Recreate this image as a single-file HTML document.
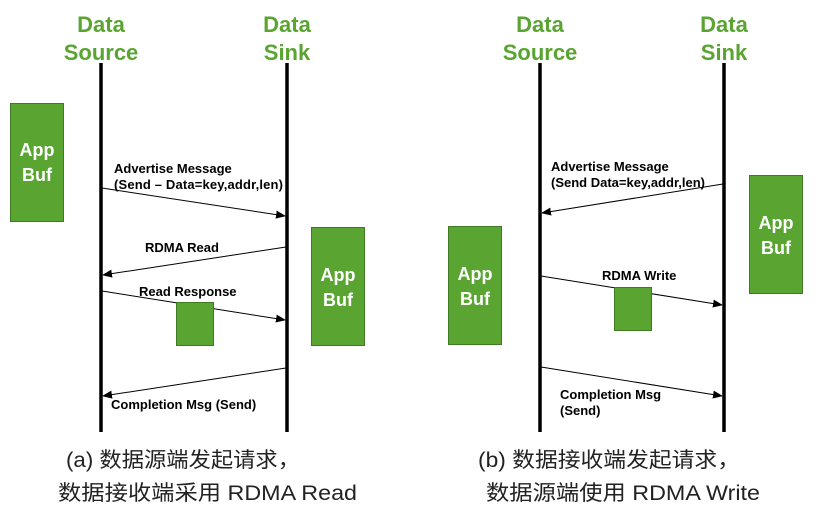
<!DOCTYPE html>
<html><head><meta charset="utf-8"><style>
body{margin:0;background:#fff}
svg text{font-family:"Liberation Sans",sans-serif}
.h{fill:#5aa532;font-weight:bold;font-size:22px;text-anchor:middle}
.l{font-size:13px;font-weight:bold;fill:#000}
.b{fill:#5aa532;stroke:#3d7a22;stroke-width:1}
.bt{fill:#fff;font-weight:bold;font-size:18px;text-anchor:middle}
.c{font-family:"Liberation Sans","Noto Sans CJK SC",sans-serif!important;font-size:21px;fill:#222}
</style></head><body>
<svg width="829" height="513" viewBox="0 0 829 513">
<defs><marker id="a" markerWidth="10" markerHeight="8" refX="9" refY="4" orient="auto" markerUnits="userSpaceOnUse"><path d="M0,0 L10,4 L0,8z" fill="#000"/></marker></defs>
<text class="h" x="101" y="32">Data</text><text class="h" x="101" y="60">Source</text>
<text class="h" x="287" y="32">Data</text><text class="h" x="287" y="60">Sink</text>
<text class="h" x="540" y="32">Data</text><text class="h" x="540" y="60">Source</text>
<text class="h" x="724" y="32">Data</text><text class="h" x="724" y="60">Sink</text>
<g stroke="#000" stroke-width="3.5"><line x1="101" y1="63" x2="101" y2="432"/><line x1="287" y1="63" x2="287" y2="432"/><line x1="540" y1="63" x2="540" y2="432"/><line x1="724" y1="63" x2="724" y2="432"/></g>
<rect class="b" x="10.5" y="103.5" width="53" height="118"/><text class="bt" x="37" y="156">App</text><text class="bt" x="37" y="181">Buf</text>
<rect class="b" x="311.5" y="227.5" width="53" height="118"/><text class="bt" x="338" y="281">App</text><text class="bt" x="338" y="306">Buf</text>
<rect class="b" x="448.5" y="226.5" width="53" height="118"/><text class="bt" x="475" y="280">App</text><text class="bt" x="475" y="305">Buf</text>
<rect class="b" x="749.5" y="175.5" width="53" height="118"/><text class="bt" x="776" y="229">App</text><text class="bt" x="776" y="254">Buf</text>
<g stroke="#000" stroke-width="1" marker-end="url(#a)">
<line x1="102" y1="188" x2="285" y2="216"/>
<line x1="286" y1="247" x2="103" y2="275"/>
<line x1="102" y1="291" x2="285" y2="320"/>
<line x1="286" y1="368" x2="103" y2="396"/>
<line x1="723" y1="184" x2="542" y2="213"/>
<line x1="541" y1="276" x2="722" y2="305"/>
<line x1="541" y1="367" x2="722" y2="396"/>
</g>
<rect class="b" x="176.5" y="302.5" width="37" height="43"/>
<rect class="b" x="614.5" y="287.5" width="37" height="43"/>
<text class="l" x="114" y="173">Advertise Message</text>
<text class="l" x="114" y="189" textLength="169">(Send – Data=key,addr,len)</text>
<text class="l" x="145" y="252">RDMA Read</text>
<text class="l" x="139" y="296">Read Response</text>
<text class="l" x="111" y="409">Completion Msg (Send)</text>
<text class="l" x="551" y="171">Advertise Message</text>
<text class="l" x="551" y="187">(Send Data=key,addr,len)</text>
<text class="l" x="602" y="280">RDMA Write</text>
<text class="l" x="560" y="399">Completion Msg</text>
<text class="l" x="560" y="415">(Send)</text>
<text class="c" x="66" y="467" textLength="234" lengthAdjust="spacingAndGlyphs">(a) 数据源端发起请求，</text>
<text class="c" x="58" y="500" textLength="299" lengthAdjust="spacingAndGlyphs">数据接收端采用 RDMA Read</text>
<text class="c" x="478" y="467" textLength="262" lengthAdjust="spacingAndGlyphs">(b) 数据接收端发起请求，</text>
<text class="c" x="486" y="500" textLength="274" lengthAdjust="spacingAndGlyphs">数据源端使用 RDMA Write</text>
</svg>
</body></html>
